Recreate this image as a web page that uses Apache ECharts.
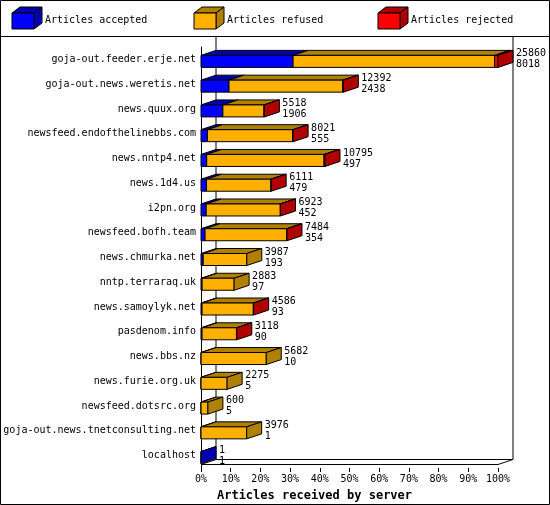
<!DOCTYPE html>
<html>
<head>
<meta charset="utf-8">
<script src="https://cdn.jsdelivr.net/npm/echarts@6/dist/echarts.min.js"></script>
<style>
html,body{margin:0;padding:0;background:#fff;}
#chart{width:550px;height:505px;}
</style>
</head>
<body>
<div id="chart"></div>
<script>
var servers = ['goja-out.feeder.erje.net','goja-out.news.weretis.net','news.quux.org','newsfeed.endofthelinebbs.com','news.nntp4.net','news.1d4.us','i2pn.org','newsfeed.bofh.team','news.chmurka.net','nntp.terraraq.uk','news.samoylyk.net','pasdenom.info','news.bbs.nz','news.furie.org.uk','newsfeed.dotsrc.org','goja-out.news.tnetconsulting.net','localhost'];
var offered  = [25860,12392,5518,8021,10795,6111,6923,7484,3987,2883,4586,3118,5682,2275,600,3976,1];
var accepted = [8018,2438,1906,555,497,479,452,354,193,97,93,90,10,5,5,1,1];
var rejected = [300,40,30,30,80,20,20,30,0,0,30,30,0,0,0,0,0];
var xTicks = ['0%','10%','20%','30%','40%','50%','60%','70%','80%','90%','100%'];

var maxTotal = offered[0];
var DX = 15, DY = 5, H = 12;
var font = '"DejaVu Sans Mono", monospace';
var colors = [
	{front:'#0000ff', dark:'#0000b0'},
	{front:'#ffb000', dark:'#b08000'},
	{front:'#ff0000', dark:'#b00000'}
];

var data = [];
for (var i = 0; i < servers.length; i++) {
	var refused = offered[i] - accepted[i] - rejected[i];
	data.push([i, accepted[i], refused, rejected[i], offered[i]]);
}

function renderItem(params, api) {
	var idx = api.value(0);
	var segs = [api.value(1), api.value(2), api.value(3)];
	var total = api.value(4);
	var base = api.coord([0, idx]);
	var yTop = base[1] - H / 2 + 2;
	var children = [];
	var cum = 0, last = 0;
	for (var s = 0; s < 3; s++) {
		if (segs[s] <= 0) continue;
		var x0 = api.coord([cum / maxTotal * 100, idx])[0];
		cum += segs[s];
		var x1 = api.coord([cum / maxTotal * 100, idx])[0];
		last = s;
		children.push({type:'polygon', shape:{points:[[x0,yTop],[x0+DX,yTop-DY],[x1+DX,yTop-DY],[x1,yTop]]},
			style:{fill:colors[s].dark, stroke:'#000', lineWidth:1}});
		children.push({type:'rect', shape:{x:x0, y:yTop, width:x1-x0, height:H},
			style:{fill:colors[s].front, stroke:'#000', lineWidth:1}});
	}
	var xe = api.coord([total / maxTotal * 100, idx])[0];
	children.push({type:'polygon', shape:{points:[[xe,yTop],[xe+DX,yTop-DY],[xe+DX,yTop+H-DY],[xe,yTop+H]]},
		style:{fill:colors[last].dark, stroke:'#000', lineWidth:1}});
	children.push({type:'text', style:{x:xe+DX+3, y:yTop-DY-2, text:total + '\n' + api.value(1),
		font:'10px ' + font, fill:'#000', lineHeight:11, textVerticalAlign:'top'}});
	return {type:'group', children:children};
}

var legendNames = ['Articles accepted','Articles refused','Articles rejected'];
var legendX = [12, 194, 378];
var graphics = [];
legendNames.forEach(function (n, k) {
	var x = legendX[k], y = 13;
	graphics.push({type:'polygon', shape:{points:[[x,y],[x+8,y-6],[x+30,y-6],[x+22,y]]}, style:{fill:colors[k].dark, stroke:'#000'}});
	graphics.push({type:'polygon', shape:{points:[[x+22,y],[x+30,y-6],[x+30,y+10],[x+22,y+16]]}, style:{fill:colors[k].dark, stroke:'#000'}});
	graphics.push({type:'rect', shape:{x:x, y:y, width:22, height:16}, style:{fill:colors[k].front, stroke:'#000'}});
	graphics.push({type:'text', style:{x:x+33, y:20, text:n, font:'10px ' + font, fill:'#000', textVerticalAlign:'middle'}});
});
graphics.push({type:'rect', shape:{x:0.5, y:0.5, width:549, height:504}, style:{fill:'none', stroke:'#000'}});
graphics.push({type:'line', shape:{x1:0, y1:36.5, x2:550, y2:36.5}, style:{stroke:'#000'}});

var myChart = echarts.init(document.getElementById('chart'));
var option = {
	animation: false,
	graphic: graphics,
	grid: {left: 201, right: 52, top: 47, bottom: 37, containLabel: false, outerBoundsMode: 'none'},
	xAxis: {
		type: 'value', min: 0, max: 100, interval: 10,
		axisLine: {show: false},
		axisTick: {show: true, length: 4, lineStyle: {color: '#000'}},
		splitLine: {show: false},
		axisLabel: {color: '#000', fontFamily: font, fontSize: 10, margin: 6,
			formatter: function (v) { return xTicks[v / 10]; }},
		name: 'Articles received by server', nameLocation: 'middle', nameGap: 22,
		nameTextStyle: {color: '#000', fontFamily: font, fontSize: 12, fontWeight: 'bold', padding: [0, 70, 0, 0]}
	},
	yAxis: {
		type: 'category', data: servers, inverse: true,
		axisLine: {show: true, lineStyle: {color: '#000'}},
		axisTick: {show: false},
		axisLabel: {color: '#000', fontFamily: font, fontSize: 10, margin: 5}
	},
	series: [{
		type: 'custom',
		renderItem: renderItem,
		encode: {x: [1, 2, 3, 4], y: 0},
		data: data,
		clip: false,
		z: 5
	}]
};
myChart.setOption(option);

// back wall / floor lines
var x0 = myChart.convertToPixel({xAxisIndex: 0}, 0);
var x100 = myChart.convertToPixel({xAxisIndex: 0}, 100);
var yFloor = 464.5, yBack = yFloor - DY;
myChart.setOption({graphic: graphics.concat([
	{type:'line', z:1, shape:{x1:x0+DX, y1:37, x2:x0+DX, y2:yBack}, style:{stroke:'#000'}},
	{type:'line', z:1, shape:{x1:x100+DX, y1:37, x2:x100+DX, y2:yBack}, style:{stroke:'#000'}},
	{type:'line', z:1, shape:{x1:x0+DX, y1:yBack, x2:x100+DX, y2:yBack}, style:{stroke:'#000'}},
	{type:'line', z:1, shape:{x1:x0, y1:yFloor, x2:x100, y2:yFloor}, style:{stroke:'#000'}},
	{type:'line', z:1, shape:{x1:x100, y1:yFloor, x2:x100+DX, y2:yBack}, style:{stroke:'#000'}},
	{type:'line', z:1, shape:{x1:x0, y1:yFloor, x2:x0+DX, y2:yBack}, style:{stroke:'#000'}}
])});
window.addEventListener("resize", function () { myChart.resize(); });
</script>
</body>
</html>
